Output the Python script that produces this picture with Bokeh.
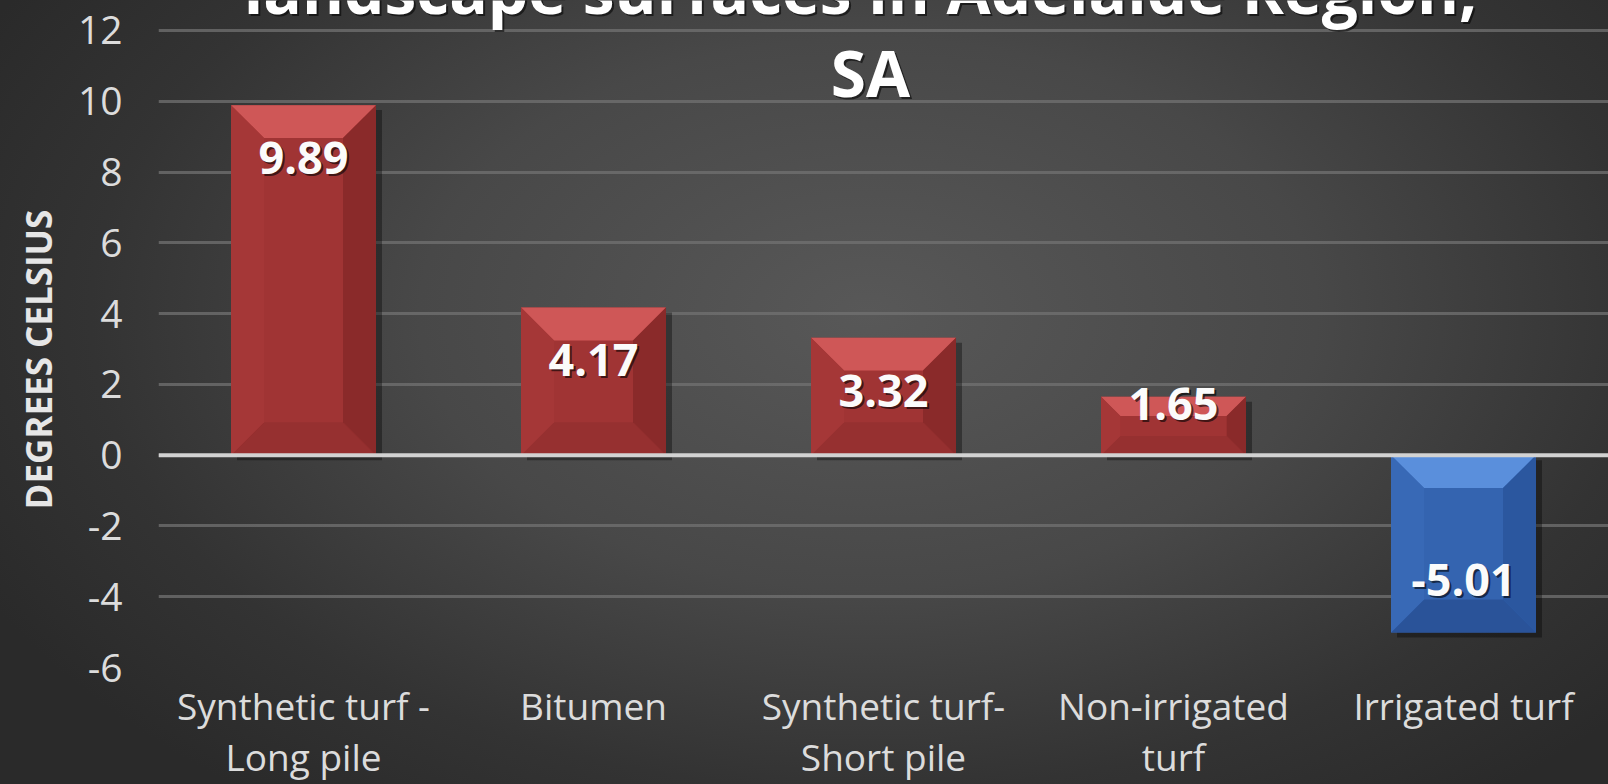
from bokeh.plotting import figure
from bokeh.models import (FactorRange, Range1d, SingleIntervalTicker, Label, Span, Title,
                          ColumnDataSource, GlobalInlineStyleSheet, PrintfTickFormatter)
from bokeh.core.properties import value
from bokeh.embed import file_html
from bokeh.resources import INLINE

# ---------------- data ----------------
categories = ["Synthetic turf -\nLong pile", "Bitumen", "Synthetic turf-\nShort pile",
              "Non-irrigated\nturf", "Irrigated turf"]
values = [9.89, 4.17, 3.32, 1.65, -5.01]
title_lines = ["landscape surfaces in Adelaide Region,", "SA"]
y_label = "DEGREES CELSIUS"
y_ticks = [-6, -4, -2, 0, 2, 4, 6, 8, 10, 12]

# ---------------- layout ----------------
W, H = 1608, 784
BL, BR, BB = 158, 0, 116
TOP_GAP = 30                      # pixels between canvas top and the "12" gridline
FW = W - BL - BR
Y0, Y1 = y_ticks[0], y_ticks[-1]
px_y = (H - BB - TOP_GAP) / (Y1 - Y0)   # pixels per degree
Y_TOP = Y1 + TOP_GAP / px_y             # frame runs to the canvas top
n = len(categories)
px_x = FW / n

FONT = "Open Sans"

css = """
html { min-height: 100%;
  background: radial-gradient(ellipse 62% 78% at 54% 40%, #585858 0%, #484848 45%, #333333 78%, #2a2a2a 100%); }
body { background: transparent; }
"""

p = figure(width=W, height=H, x_range=FactorRange(*categories, range_padding=0, factor_padding=0),
           y_range=Range1d(Y0, Y_TOP), output_backend="svg", toolbar_location=None, title=None,
           min_border_left=BL, min_border_right=BR, min_border_top=0, min_border_bottom=BB)
p.stylesheets = [GlobalInlineStyleSheet(css=css)]
p.background_fill_alpha = 0
p.border_fill_alpha = 0
p.outline_line_color = None

# grid
p.xgrid.grid_line_color = None
p.ygrid.grid_line_color = "#727272"
p.ygrid.grid_line_alpha = 0.75
p.ygrid.grid_line_width = 3
p.yaxis.ticker = SingleIntervalTicker(interval=2, num_minor_ticks=0)
p.yaxis.formatter = PrintfTickFormatter(format="%d")

# axes
for ax in (p.xaxis[0], p.yaxis[0]):
    ax.axis_line_color = None
    ax.major_tick_line_color = None
    ax.minor_tick_line_color = None
    ax.major_label_text_font = FONT
    ax.major_label_text_color = "#dcdcdc"

p.yaxis.major_label_text_font_size = "39px"
p.yaxis.major_label_standoff = 30

# vertical axis title, starting above the frame bottom as in the original
p.add_layout(Title(text=y_label, align="left", offset=158, standoff=25,
                   text_font=FONT, text_font_style="bold", text_font_size="35px",
                   text_color="#e6e6e6"), "left")

p.xaxis.major_label_text_font_size = "37px"
p.xaxis.major_label_standoff = 6
p.xaxis.major_label_text_line_height = 1.0
p.xaxis.major_label_orientation = "horizontal"

# ---------------- bars ----------------
half = 0.25
sh_dx, sh_dy = 6 / px_x, 5 / px_y
shadow = dict(left=[], right=[], top=[], bottom=[])
face = dict(x=[], top=[], color=[])
bev = dict(xs=[], ys=[], color=[])
pal = {
    "pos": dict(face="#a03434", up="#cf5757", down="#963030", left="#a53737", right="#8a2a2a"),
    "neg": dict(face="#3464b0", up="#5a8fdc", down="#2a5399", left="#3869b6", right="#2b579f"),
}
for i, (c, v) in enumerate(zip(categories, values)):
    xc = i + 0.5
    xl, xr = xc - half, xc + half
    up, lo = max(v, 0), min(v, 0)
    col = pal["pos"] if v >= 0 else pal["neg"]
    shadow["left"].append(xl + sh_dx); shadow["right"].append(xr + sh_dx)
    shadow["top"].append(up - sh_dy); shadow["bottom"].append(lo - sh_dy)
    face["x"].append(c); face["top"].append(v); face["color"].append(col["face"])
    h_px = abs(v) * px_y
    b_px = min(33, h_px * 0.33)
    bx, by = b_px / px_x, b_px / px_y
    # upper bevel (light)
    bev["xs"].append([xl, xr, xr - bx, xl + bx]); bev["ys"].append([up, up, up - by, up - by]); bev["color"].append(col["up"])
    # lower bevel
    bev["xs"].append([xl, xr, xr - bx, xl + bx]); bev["ys"].append([lo, lo, lo + by, lo + by]); bev["color"].append(col["down"])
    # left strip
    bev["xs"].append([xl, xl + bx, xl + bx, xl]); bev["ys"].append([lo, lo + by, up - by, up]); bev["color"].append(col["left"])
    # right strip
    bev["xs"].append([xr, xr - bx, xr - bx, xr]); bev["ys"].append([lo, lo + by, up - by, up]); bev["color"].append(col["right"])

p.quad(source=ColumnDataSource(shadow), left="left", right="right", top="top", bottom="bottom",
       fill_color="black", fill_alpha=0.35, line_color=None)
p.vbar(source=ColumnDataSource(face), x="x", top="top", bottom=0, width=2 * half,
       fill_color="color", line_color=None)
p.patches(source=ColumnDataSource(bev), xs="xs", ys="ys", fill_color="color", line_color=None)

p.add_layout(Span(location=0, dimension="width", line_color="#d2d2d2", line_width=4))

# ---------------- data labels ----------------
lab = dict(x=[], y=[], text=[])
for c, v in zip(categories, values):
    h_px = abs(v) * px_y
    off = 53 if h_px > 110 else max(7, h_px - 52)
    s = 1 if v >= 0 else -1
    lab["x"].append(c); lab["y"].append(v - s * off / px_y); lab["text"].append(f"{v:.2f}")
src = ColumnDataSource(lab)
p.text(source=src, x="x", y="y", text="text", x_offset=2, y_offset=2, text_align="center",
       text_baseline="middle", text_font=value(FONT), text_font_style="bold",
       text_font_size="45px", text_color="black", text_alpha=0.6)
p.text(source=src, x="x", y="y", text="text", text_align="center", text_baseline="middle",
       text_font=value(FONT), text_font_style="bold", text_font_size="45px", text_color="#fbfbfb")

# ---------------- title ----------------
t_x = (860 - BL) / px_x
# (anchor y in data units, extra screen offset upwards)
placements = [(Y_TOP, 11, t_x), (Y1 - 42 / px_y, 0, t_x + 10 / px_x)]
for txt, (ty, yo, tx) in zip(title_lines, placements):
    p.add_layout(Label(x=tx, y=ty, y_offset=yo - 2, x_offset=2, text=txt, text_align="center",
                       text_baseline="alphabetic", text_font=FONT, text_font_style="bold",
                       text_font_size="64px", text_color="black", text_alpha=0.55))
    p.add_layout(Label(x=tx, y=ty, y_offset=yo, text=txt, text_align="center",
                       text_baseline="alphabetic", text_font=FONT, text_font_style="bold",
                       text_font_size="64px", text_color="#ffffff"))

open("out.html", "w").write(file_html(p, INLINE))
